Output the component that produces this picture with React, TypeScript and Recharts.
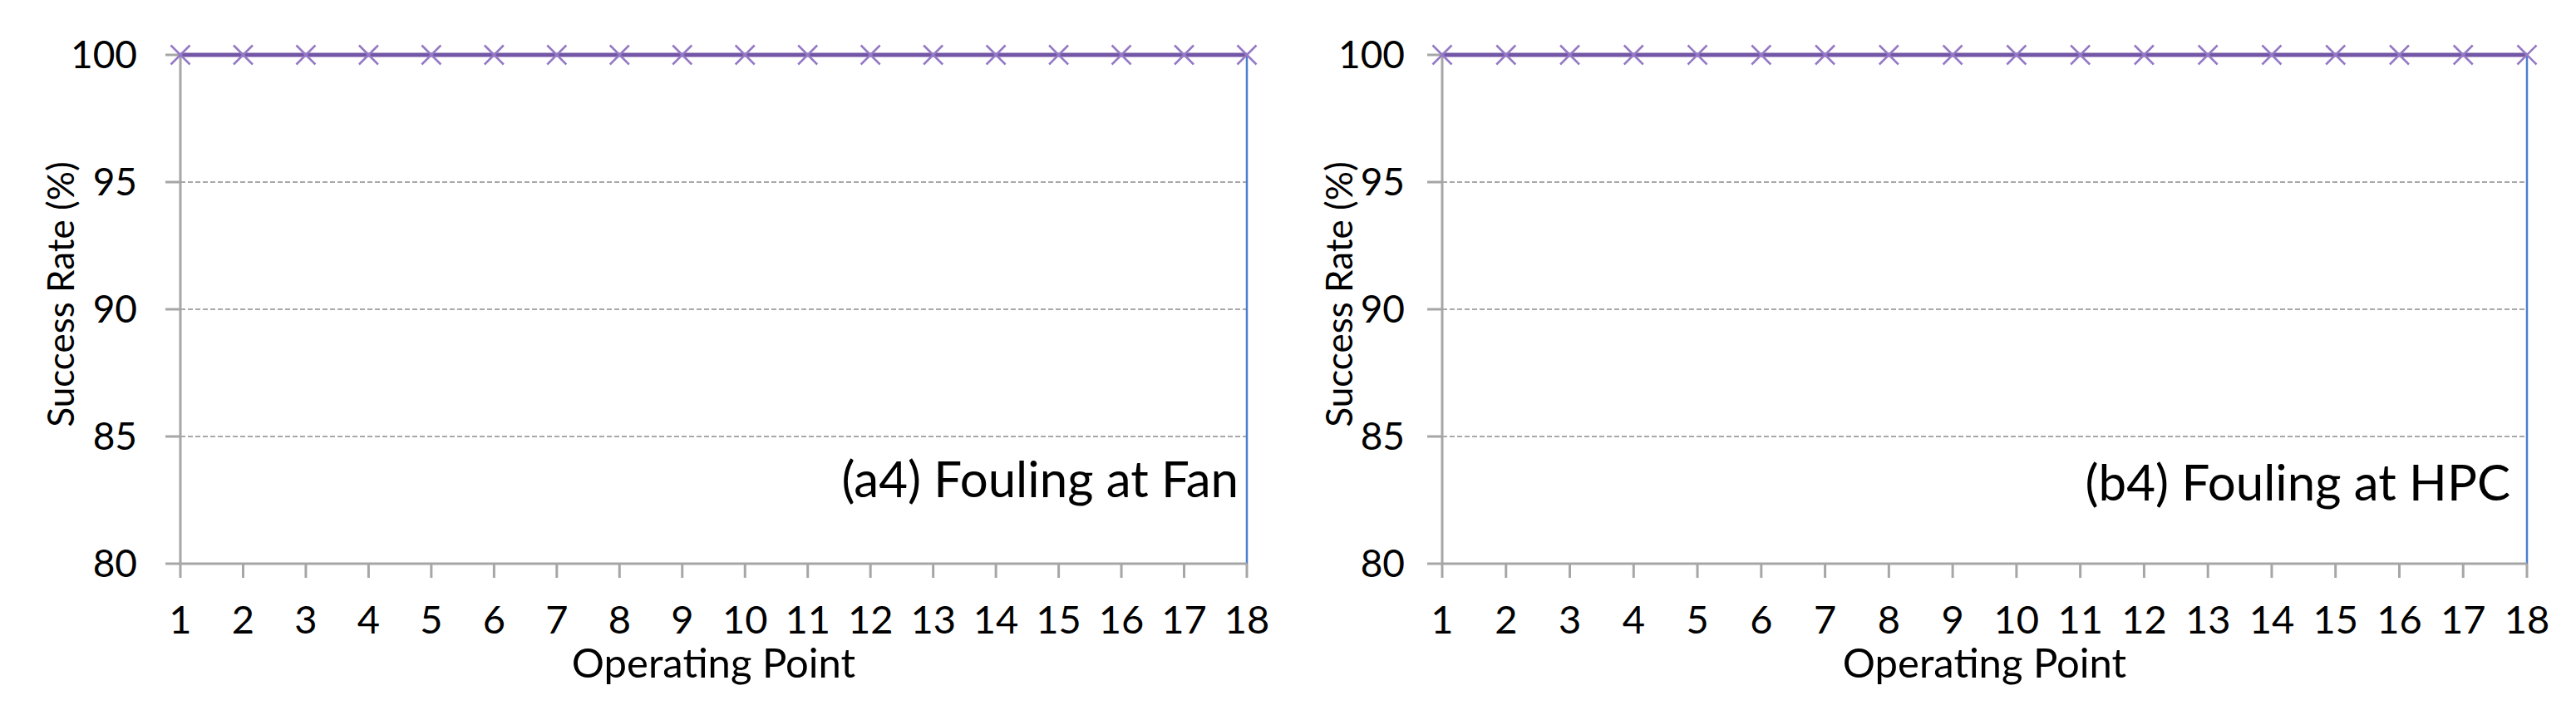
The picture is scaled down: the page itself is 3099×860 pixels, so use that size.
import React from "react";
import { LineChart, Line, XAxis, YAxis, CartesianGrid, Label } from "recharts";

// operating points 1..18
const opPoints = [1, 2, 3, 4, 5, 6, 7, 8, 9, 10, 11, 12, 13, 14, 15, 16, 17, 18];
const xTicks = [1, 2, 3, 4, 5, 6, 7, 8, 9, 10, 11, 12, 13, 14, 15, 16, 17, 18];
const yTicks = [80, 85, 90, 95, 100];

// success rates (%) – all 100 in both panels
const fanRates = [100, 100, 100, 100, 100, 100, 100, 100, 100, 100, 100, 100, 100, 100, 100, 100, 100, 100];
const hpcRates = [100, 100, 100, 100, 100, 100, 100, 100, 100, 100, 100, 100, 100, 100, 100, 100, 100, 100];
// blue reference series: flat at 100 then dropping at the last point
const refX = [1, 2, 3, 4, 5, 6, 7, 8, 9, 10, 11, 12, 13, 14, 15, 16, 17, 18, 18];
const refRates = [100, 100, 100, 100, 100, 100, 100, 100, 100, 100, 100, 100, 100, 100, 100, 100, 100, 100, 80];

const FONT = "Lato, 'Open Sans', sans-serif";
const AXIS = "#A6A6A6";
const PURPLE = "#7456A6";
const CROSS = "#9479C4";
const BLUE = "#4A7FCF";

const toRows = (xs: number[], ys: number[]) => xs.map((x, i) => ({ x, y: ys[i] }));

function CrossDot(props: any) {
  const { cx, cy } = props;
  if (cx == null || cy == null) return null;
  const s = 11.5;
  return (
    <path
      key={`c-${cx}`}
      d={`M${cx - s},${cy - s}L${cx + s},${cy + s}M${cx - s},${cy + s}L${cx + s},${cy - s}`}
      stroke={CROSS}
      strokeWidth={2.5}
      fill="none"
    />
  );
}

interface PanelProps {
  left: number;
  width: number;
  yAxisWidth: number;
  tickGap: number;
  yLabelX: number;
  rates: number[];
}

function Panel({ left, width, yAxisWidth, tickGap, yLabelX, rates }: PanelProps) {
  const data = toRows(opPoints, rates);
  const ref = toRows(refX, refRates);
  return (
    <div style={{ position: "absolute", left, top: 0 }}>
      <LineChart width={width} height={860} margin={{ top: 66, right: 59, left: 0, bottom: 0 }}>
        <CartesianGrid
          horizontal
          vertical={false}
          stroke="#8C8C8C"
          strokeWidth={1.5}
          strokeDasharray="6 3"
        />
        <XAxis
          dataKey="x"
          type="number"
          domain={[1, 18]}
          ticks={xTicks}
          interval={0}
          height={182}
          allowDuplicatedCategory={false}
          axisLine={{ stroke: AXIS, strokeWidth: 3 }}
          tickLine={{ stroke: AXIS, strokeWidth: 3 }}
          tickSize={17}
          tickMargin={34}
          tick={{ fill: "#000", fontSize: 47, fontFamily: FONT }}
        >
          <Label
            content={(p: any) => {
              const vb = p.viewBox || {};
              return (
                <text
                  x={vb.x + vb.width / 2}
                  y={815}
                  textAnchor="middle"
                  fontFamily={FONT}
                  fontSize={49}
                  fill="#000"
                >
                  Operating Point
                </text>
              );
            }}
          />
        </XAxis>
        <YAxis
          type="number"
          domain={[80, 100]}
          ticks={yTicks}
          width={yAxisWidth}
          axisLine={{ stroke: AXIS, strokeWidth: 3 }}
          tickLine={{ stroke: AXIS, strokeWidth: 3 }}
          tickSize={18}
          tickMargin={tickGap}
          tick={{ fill: "#000", fontSize: 46, fontFamily: FONT }}
        >
          <Label
            content={(p: any) => {
              const vb = p.viewBox || {};
              const cy = vb.y + vb.height / 2 - 18;
              return (
                <text
                  x={yLabelX}
                  y={cy}
                  transform={`rotate(-90 ${yLabelX} ${cy})`}
                  textAnchor="middle"
                  dominantBaseline="central"
                  fontFamily={FONT}
                  fontSize={44}
                  fill="#000"
                >
                  Success Rate (%)
                </text>
              );
            }}
          />
        </YAxis>
        <Line
          data={ref}
          dataKey="y"
          stroke={BLUE}
          strokeWidth={2.5}
          dot={false}
          isAnimationActive={false}
        />
        <Line
          data={data}
          dataKey="y"
          stroke={PURPLE}
          strokeWidth={5}
          dot={CrossDot}
          activeDot={false}
          isAnimationActive={false}
        />
      </LineChart>
    </div>
  );
}

export default function App() {
  return (
    <div style={{ position: "absolute", left: 0, top: 0, width: 3099, height: 860, background: "#fff" }}>
      <Panel left={0} width={1559} yAxisWidth={217} tickGap={34} yLabelX={72} rates={fanRates} />
      <Panel left={1560} width={1539} yAxisWidth={175} tickGap={27} yLabelX={50} rates={hpcRates} />
      <svg
        width={3099}
        height={860}
        style={{ position: "absolute", left: 0, top: 0, pointerEvents: "none" }}
      >
        <text x={1490} y={598} textAnchor="end" fontFamily={FONT} fontSize={60} fill="#000">
          (a4) Fouling at Fan
        </text>
        <text x={3020} y={602} textAnchor="end" fontFamily={FONT} fontSize={60} fill="#000">
          (b4) Fouling at HPC
        </text>
      </svg>
    </div>
  );
}
